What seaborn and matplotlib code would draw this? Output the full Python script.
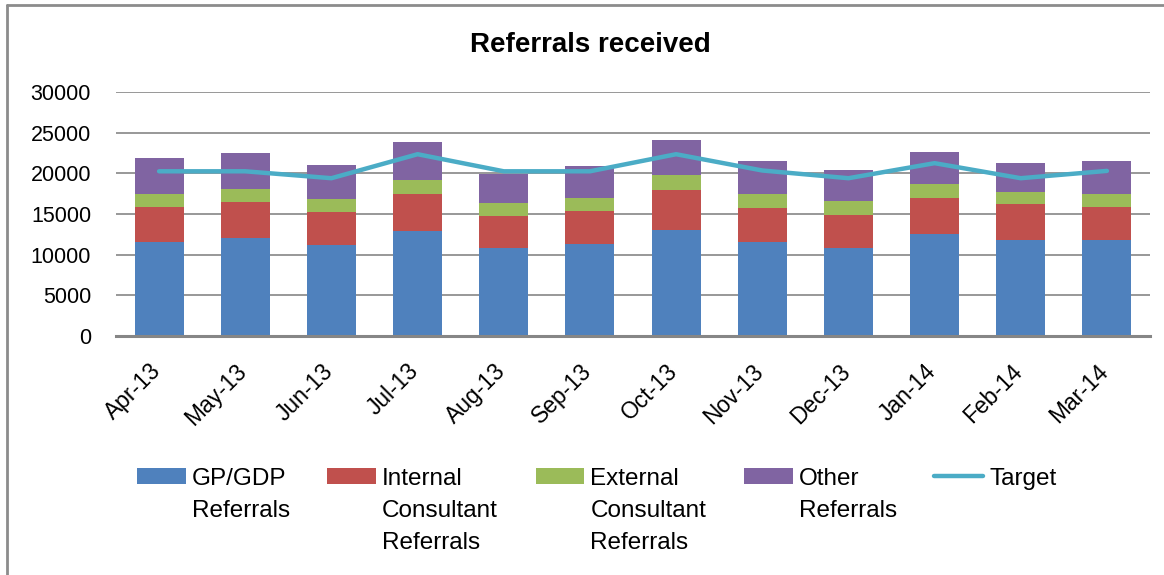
import numpy as np
import pandas as pd
import matplotlib
matplotlib.use("Agg")
import matplotlib.pyplot as plt
import matplotlib.transforms as mtransforms
from matplotlib.patches import Patch
from matplotlib.lines import Line2D
import seaborn as sns

months = ["Apr-13", "May-13", "Jun-13", "Jul-13", "Aug-13", "Sep-13",
          "Oct-13", "Nov-13", "Dec-13", "Jan-14", "Feb-14", "Mar-14"]
gp_gdp = [11500, 12070, 11250, 12970, 10850, 11340, 13050, 11500, 10770, 12480, 11830, 11830]
internal = [4360, 4400, 4000, 4490, 3910, 4030, 4890, 4240, 4110, 4480, 4400, 4030]
external = [1590, 1590, 1590, 1710, 1590, 1590, 1840, 1710, 1720, 1720, 1470, 1590]
other = [4400, 4400, 4160, 4650, 3550, 3920, 4280, 4040, 3790, 3910, 3550, 4040]
target = [20250, 20250, 19400, 22350, 20250, 20250, 22350, 20350, 19400, 21250, 19400, 20300]

series = ["GP/GDP\nReferrals", "Internal\nConsultant\nReferrals",
          "External\nConsultant\nReferrals", "Other\nReferrals"]
colors = ["#4F81BD", "#C0504D", "#9BBB59", "#8064A2"]
line_color = "#4BACC6"

df = pd.DataFrame({"Month": months, "GP": gp_gdp, "Internal": internal,
                   "External": external, "Other": other, "Target": target})
cols = ["GP", "Internal", "External", "Other"]
cum = df[cols].cumsum(axis=1)

sns.set_style("white")
plt.rcParams["font.family"] = ["Liberation Sans", "DejaVu Sans"]
plt.rcParams["text.color"] = "black"
plt.rcParams["xtick.color"] = "black"
plt.rcParams["ytick.color"] = "black"

fig = plt.figure(figsize=(11.64, 5.75), dpi=100)
ax = fig.add_axes([116 / 1164, 1 - 336 / 575, (1150 - 116) / 1164, (336 - 92) / 575])

# stacked bars drawn as cumulative layers, tallest first
for c, col in zip(reversed(cols), reversed(colors)):
    sns.barplot(x=df["Month"], y=cum[c], color=col, width=0.57, ax=ax,
                saturation=1, linewidth=0, zorder=2)

sns.lineplot(x=np.arange(len(months)), y=df["Target"], color=line_color,
             linewidth=3.2, ax=ax, zorder=3)

ax.set_ylim(0, 30000)
ax.set_xlim(-0.5, len(months) - 0.5)
ax.set_yticks(range(0, 30001, 5000))
ax.yaxis.grid(True, color="#868686", linewidth=1.2, zorder=0)
ax.set_axisbelow(True)
for s in ["top", "right", "left"]:
    ax.spines[s].set_visible(False)
ax.spines["bottom"].set_color("#868686")
ax.spines["bottom"].set_linewidth(2.2)
ax.set_xlabel("")
ax.set_ylabel("")
ax.tick_params(axis="y", length=0, labelsize=15.5, pad=18)
ax.tick_params(axis="x", length=0, pad=17)
ax.set_xticks(range(len(months)))
ax.set_xticklabels(months, rotation=45, ha="right", fontsize=16.5)
offset = mtransforms.ScaledTranslation(0.06, 0, fig.dpi_scale_trans)
for lbl in ax.get_xticklabels():
    lbl.set_transform(lbl.get_transform() + offset)

fig.suptitle("Referrals received", x=590 / 1164, y=1 - 45 / 575, va="center",
             fontsize=20, fontweight="bold")

handles = [Patch(facecolor=c, edgecolor="none") for c in colors]
handles.append(Line2D([], [], color=line_color, linewidth=3.2))
labels = series + ["Target"]
leg = fig.legend(handles, labels, ncol=5, loc="upper left",
                 bbox_to_anchor=(137 / 1164, 1 - 468 / 575), frameon=False,
                 prop={"size": 17.5}, handlelength=2.0,
                 handleheight=0.62, handletextpad=0.25, columnspacing=1.55,
                 borderpad=0, borderaxespad=0)
for t in leg.get_texts():
    t.set_linespacing(1.58)
leg._legend_handle_box.align = "top"
for column in leg._legend_handle_box.get_children():
    for entry in column.get_children():
        entry.align = "top"

# outer chart frame (left and top edges)
fig.add_artist(Line2D([7 / 1164, 7 / 1164], [1 - 5 / 575, 0], color="#8C8C8C",
                      linewidth=2, transform=fig.transFigure))
fig.add_artist(Line2D([7 / 1164, 1], [1 - 5 / 575, 1 - 5 / 575], color="#8C8C8C",
                      linewidth=2, transform=fig.transFigure))

fig.savefig("out.png", dpi=100)
